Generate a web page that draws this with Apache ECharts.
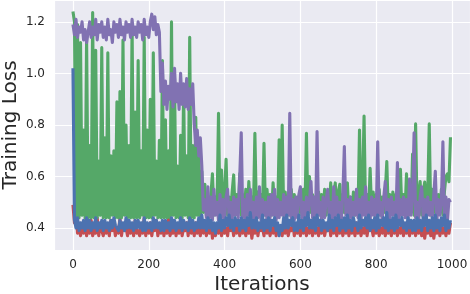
<!DOCTYPE html>
<html>
<head>
<meta charset="utf-8">
<script src="https://cdn.jsdelivr.net/npm/echarts@6/dist/echarts.min.js"></script>
<style>html,body{margin:0;padding:0;background:#fff;}#c{width:470px;height:294px;}</style>
</head>
<body>
<div id="c"></div>
<script>
// Values sampled every 4 iterations (0..996)
const iterStep = 4;
const xTickLabels = ['0','200','400','600','800','1000'];
const yTickLabels = ['0.4','0.6','0.8','1.0','1.2'];

const red = [
0.49,0.42,0.47,0.38,0.41,0.37,0.40,0.38,0.42,0.37,
0.41,0.38,0.43,0.37,0.39,0.38,0.44,0.37,0.41,0.39,
0.37,0.42,0.38,0.40,0.37,0.43,0.39,0.41,0.37,0.40,
0.38,0.44,0.37,0.41,0.39,0.40,0.37,0.42,0.38,0.41,
0.37,0.43,0.38,0.39,0.37,0.41,0.38,0.44,0.37,0.40,
0.38,0.42,0.37,0.41,0.39,0.43,0.37,0.40,0.38,0.42,
0.37,0.41,0.38,0.44,0.37,0.39,0.38,0.42,0.37,0.41,
0.38,0.43,0.37,0.40,0.39,0.42,0.37,0.44,0.38,0.41,
0.37,0.42,0.38,0.40,0.37,0.43,0.38,0.41,0.37,0.40,
0.38,0.42,0.36,0.41,0.37,0.40,0.38,0.42,0.37,0.41,
0.38,0.40,0.37,0.42,0.39,0.41,0.37,0.40,0.38,0.43,
0.37,0.41,0.38,0.40,0.37,0.42,0.38,0.41,0.36,0.40,
0.38,0.42,0.37,0.41,0.39,0.40,0.37,0.43,0.38,0.41,
0.37,0.40,0.38,0.42,0.37,0.41,0.38,0.40,0.37,0.42,
0.38,0.41,0.37,0.40,0.39,0.42,0.37,0.41,0.38,0.40,
0.37,0.42,0.38,0.41,0.37,0.40,0.38,0.43,0.37,0.41,
0.38,0.40,0.37,0.42,0.38,0.41,0.37,0.40,0.39,0.42,
0.37,0.41,0.38,0.40,0.37,0.42,0.38,0.41,0.37,0.40,
0.38,0.42,0.37,0.41,0.38,0.40,0.37,0.42,0.38,0.41,
0.37,0.40,0.38,0.42,0.37,0.41,0.39,0.40,0.37,0.42,
0.38,0.41,0.37,0.40,0.38,0.42,0.37,0.41,0.38,0.40,
0.37,0.42,0.38,0.41,0.37,0.40,0.38,0.42,0.37,0.41,
0.38,0.40,0.37,0.42,0.38,0.41,0.37,0.40,0.38,0.42,
0.37,0.41,0.36,0.40,0.38,0.42,0.37,0.41,0.36,0.40,
0.38,0.42,0.37,0.41,0.38,0.40,0.37,0.42,0.38,0.42
];

const blue = [
1.02,0.43,0.40,0.44,0.39,0.42,0.40,0.43,0.39,0.44,
0.40,0.43,0.39,0.42,0.40,0.44,0.39,0.42,0.40,0.43,
0.39,0.43,0.40,0.42,0.39,0.43,0.40,0.44,0.41,0.40,
0.39,0.43,0.40,0.42,0.39,0.44,0.40,0.43,0.40,0.42,
0.39,0.43,0.40,0.43,0.40,0.42,0.39,0.44,0.39,0.42,
0.40,0.42,0.39,0.44,0.40,0.43,0.40,0.42,0.39,0.43,
0.39,0.43,0.40,0.42,0.39,0.44,0.40,0.43,0.39,0.42,
0.40,0.44,0.39,0.43,0.40,0.42,0.39,0.44,0.40,0.43,
0.39,0.42,0.40,0.44,0.40,0.45,0.40,0.43,0.39,0.44,
0.40,0.43,0.39,0.42,0.38,0.42,0.40,0.45,0.39,0.43,
0.40,0.44,0.41,0.45,0.40,0.43,0.39,0.44,0.41,0.43,
0.39,0.44,0.40,0.43,0.39,0.44,0.41,0.46,0.40,0.43,
0.40,0.44,0.39,0.42,0.40,0.45,0.39,0.43,0.40,0.44,
0.39,0.43,0.41,0.44,0.39,0.42,0.37,0.41,0.39,0.44,
0.40,0.45,0.40,0.43,0.41,0.44,0.39,0.42,0.39,0.45,
0.40,0.43,0.39,0.44,0.41,0.46,0.40,0.43,0.40,0.44,
0.39,0.45,0.41,0.43,0.39,0.43,0.40,0.42,0.39,0.45,
0.40,0.43,0.39,0.44,0.41,0.45,0.39,0.43,0.40,0.44,
0.39,0.45,0.40,0.43,0.39,0.44,0.41,0.42,0.39,0.45,
0.40,0.43,0.41,0.44,0.40,0.45,0.39,0.43,0.40,0.44,
0.39,0.45,0.40,0.43,0.41,0.44,0.40,0.46,0.39,0.43,
0.40,0.44,0.39,0.45,0.40,0.43,0.41,0.44,0.40,0.42,
0.39,0.44,0.40,0.43,0.39,0.43,0.39,0.44,0.40,0.43,
0.39,0.44,0.41,0.45,0.39,0.43,0.40,0.44,0.39,0.45,
0.40,0.43,0.39,0.44,0.41,0.45,0.39,0.43,0.40,0.43
];

const green = [
1.24,1.20,0.44,1.19,0.44,1.12,0.45,0.78,0.44,1.14,
0.44,0.72,0.44,1.236,0.44,1.09,0.44,0.66,0.45,1.10,
0.44,0.75,0.44,1.08,0.44,0.68,0.45,0.70,0.44,0.89,
0.44,0.93,0.44,1.13,0.45,0.80,0.44,0.72,0.44,1.19,
0.44,0.85,0.44,1.05,0.44,0.70,0.45,1.14,0.44,0.78,
0.44,0.90,0.44,1.08,0.45,0.66,0.44,0.74,0.44,1.05,
0.44,0.82,0.44,0.70,0.44,1.20,0.45,0.98,0.44,0.64,
0.44,0.76,0.44,0.94,0.45,0.68,0.44,1.14,0.44,0.72,
0.44,0.83,0.45,0.72,0.44,0.62,0.46,0.57,0.45,0.52,
0.45,0.53,0.61,0.45,0.52,0.46,0.845,0.45,0.625,0.46,
0.53,0.667,0.45,0.52,0.46,0.54,0.606,0.45,0.53,0.46,
0.61,0.45,0.53,0.46,0.55,0.45,0.58,0.46,0.52,0.45,
0.768,0.46,0.54,0.45,0.53,0.46,0.729,0.45,0.55,0.46,
0.53,0.45,0.575,0.46,0.52,0.45,0.742,0.46,0.80,0.45,
0.54,0.46,0.52,0.45,0.55,0.46,0.53,0.45,0.52,0.46,
0.54,0.45,0.55,0.46,0.768,0.45,0.60,0.46,0.53,0.45,
0.52,0.46,0.54,0.45,0.53,0.46,0.55,0.45,0.52,0.46,
0.575,0.45,0.53,0.575,0.46,0.54,0.57,0.45,0.53,0.46,
0.55,0.575,0.45,0.52,0.46,0.54,0.45,0.53,0.46,0.78,
0.45,0.55,0.835,0.46,0.53,0.45,0.632,0.46,0.54,0.45,
0.53,0.46,0.55,0.45,0.52,0.46,0.54,0.658,0.45,0.53,
0.46,0.54,0.45,0.53,0.46,0.55,0.628,0.45,0.53,0.46,
0.61,0.45,0.54,0.46,0.687,0.45,0.804,0.46,0.53,0.58,
0.45,0.54,0.578,0.46,0.53,0.804,0.45,0.55,0.46,0.54,
0.45,0.53,0.46,0.55,0.45,0.54,0.60,0.61,0.58,0.752
];

const purple = [
1.19,1.15,1.21,1.14,1.18,1.16,1.20,1.13,1.17,1.12,
1.16,1.20,1.14,1.18,1.15,1.21,1.13,1.19,1.16,1.20,
1.14,1.18,1.13,1.21,1.15,1.17,1.12,1.20,1.16,1.19,
1.14,1.21,1.15,1.18,1.13,1.20,1.16,1.19,1.14,1.21,
1.15,1.18,1.14,1.20,1.16,1.19,1.13,1.21,1.15,1.18,
1.14,1.20,1.23,1.17,1.22,1.15,1.19,1.16,0.93,1.04,
0.88,0.97,0.86,0.95,0.90,1.00,0.87,1.02,0.89,0.96,
0.86,1.00,0.88,0.96,0.87,0.98,0.86,0.94,0.88,0.96,
0.80,0.72,0.78,0.68,0.75,0.64,0.47,0.51,0.44,0.56,
0.44,0.52,0.43,0.55,0.45,0.50,0.43,0.53,0.44,0.51,
0.43,0.52,0.55,0.44,0.50,0.43,0.52,0.45,0.51,0.44,
0.60,0.77,0.44,0.51,0.43,0.53,0.45,0.55,0.44,0.50,
0.43,0.52,0.44,0.56,0.43,0.51,0.45,0.50,0.43,0.52,
0.44,0.53,0.45,0.55,0.43,0.51,0.44,0.50,0.45,0.53,
0.43,0.52,0.45,0.845,0.44,0.51,0.43,0.52,0.44,0.53,
0.56,0.44,0.50,0.43,0.52,0.45,0.51,0.58,0.44,0.52,
0.43,0.774,0.45,0.50,0.43,0.52,0.44,0.51,0.55,0.45,
0.50,0.43,0.56,0.44,0.52,0.45,0.50,0.43,0.53,0.716,
0.45,0.51,0.43,0.52,0.44,0.50,0.45,0.55,0.44,0.51,
0.43,0.52,0.45,0.56,0.44,0.50,0.43,0.52,0.45,0.51,
0.44,0.735,0.45,0.50,0.43,0.52,0.58,0.44,0.51,0.43,
0.52,0.45,0.50,0.44,0.654,0.43,0.51,0.45,0.52,0.44,
0.51,0.43,0.59,0.45,0.52,0.77,0.44,0.50,0.43,0.52,
0.56,0.44,0.51,0.43,0.52,0.45,0.50,0.44,0.53,0.62,
0.43,0.51,0.45,0.50,0.735,0.44,0.52,0.43,0.51,0.50
];

const seriesNames = ['red','green','purple','blue'];
const seriesColors = ['#C44E52','#55A868','#8172B2','#4C72B0'];
const seriesValues = [red, green, purple, blue];

const FONT = 'DejaVu Sans';
const chart = echarts.init(document.getElementById('c'), null, {renderer:'canvas'});
const toPairs = arr => arr.map((v, i) => [i * iterStep, v]);

chart.setOption({
  animation: false,
  backgroundColor: '#ffffff',
  grid: {left: 54, right: 0, top: 0, bottom: 44, show: true, backgroundColor: '#EAEAF2', borderWidth: 0,
         containLabel: false, outerBoundsMode: 'none'},
  xAxis: {
    type: 'value', min: -50, max: 1047.5, splitNumber: 5,
    axisLine: {show: false}, axisTick: {show: false},
    axisLabel: {color: '#262626', fontFamily: FONT, fontSize: 12, margin: 9,
      showMinLabel: false, showMaxLabel: false,
      formatter: v => { const s = String(Math.round(v)); return xTickLabels.includes(s) ? s : ''; }},
    splitLine: {show: true, lineStyle: {color: '#ffffff', width: 1.2}},
    name: 'Iterations', nameLocation: 'middle', nameGap: 25, nameMoveOverlap: false,
    nameTextStyle: {color: '#262626', fontFamily: FONT, fontSize: 20}
  },
  yAxis: {
    type: 'value', min: 0.3146, max: 1.285, splitNumber: 5,
    axisLine: {show: false}, axisTick: {show: false},
    axisLabel: {color: '#262626', fontFamily: FONT, fontSize: 12, margin: 9,
      showMinLabel: false, showMaxLabel: false,
      formatter: v => { const s = v.toFixed(1); return yTickLabels.includes(s) ? s : ''; }},
    splitLine: {show: true, lineStyle: {color: '#ffffff', width: 1.2}},
    name: 'Training Loss', nameLocation: 'middle', nameGap: 33, nameMoveOverlap: false,
    nameTextStyle: {color: '#262626', fontFamily: FONT, fontSize: 20}
  },
  series: seriesValues.map((vals, k) => ({
    name: seriesNames[k], type: 'line', data: toPairs(vals),
    showSymbol: false, symbol: 'none', z: 2 + k,
    lineStyle: {color: seriesColors[k], width: 3.1, join: 'round'},
    itemStyle: {color: seriesColors[k]}
  }))
});
</script>
</body>
</html>
